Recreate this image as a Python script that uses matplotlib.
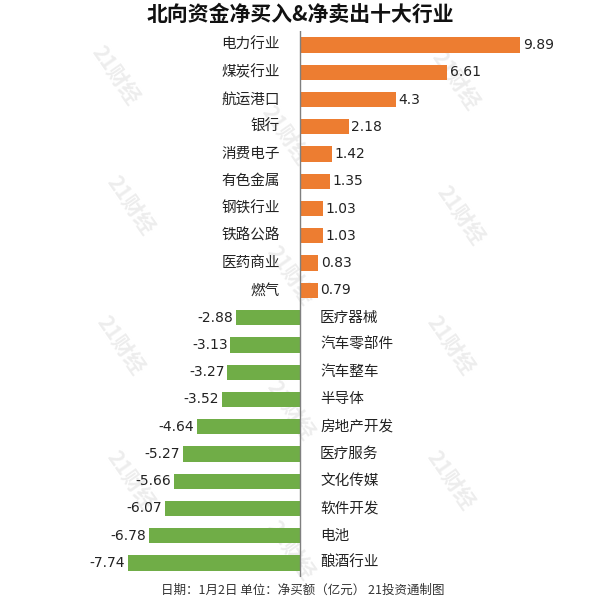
import matplotlib.pyplot as plt

plt.rcParams['font.family'] = ['Noto Sans CJK SC', 'DejaVu Sans']

# net buy / net sell industries (亿元)
buy_names = ['电力行业', '煤炭行业', '航运港口', '银行', '消费电子',
             '有色金属', '钢铁行业', '铁路公路', '医药商业', '燃气']
buy_values = [9.89, 6.61, 4.3, 2.18, 1.42, 1.35, 1.03, 1.03, 0.83, 0.79]
sell_names = ['医疗器械', '汽车零部件', '汽车整车', '半导体', '房地产开发',
              '医疗服务', '文化传媒', '软件开发', '电池', '酿酒行业']
sell_values = [-2.88, -3.13, -3.27, -3.52, -4.64, -5.27, -5.66, -6.07, -6.78, -7.74]

names = buy_names + sell_names
values = buy_values + sell_values

orange = '#ED7D31'
green = '#70AD47'

fig = plt.figure(figsize=(6, 6), dpi=100)
ax = fig.add_axes([0, 0.039, 1, 0.9087])
ax.set_zorder(2)
ax.patch.set_alpha(0)

ypos = list(range(len(values)))
colors = [orange if v > 0 else green for v in values]
ax.barh(ypos, values, height=0.56, color=colors, zorder=2)

ax.set_xlim(-13.48, 13.48)
ax.set_ylim(len(values) - 0.5, -0.5)
ax.axvline(0, color='#7f7f7f', lw=1, zorder=3)
ax.axis('off')

for y, (name, v) in enumerate(zip(names, values)):
    label = f'{v:g}'
    if v > 0:
        ax.text(-0.9, y, name, ha='right', va='center', fontsize=10.5, color='#222222')
        ax.text(v + 0.12, y, label, ha='left', va='center', fontsize=10,
                color='#222222', family='DejaVu Sans')
    else:
        ax.text(0.9, y, name, ha='left', va='center', fontsize=10.5, color='#222222')
        ax.text(v - 0.12, y, label, ha='right', va='center', fontsize=10,
                color='#222222', family='DejaVu Sans')

# faint watermarks behind the bars
wm = [(115, 75), (455, 80), (285, 135), (130, 205), (460, 215), (290, 275),
      (120, 345), (450, 345), (290, 410), (130, 480), (450, 480), (290, 550)]
for x, y in wm:
    fig.text(x / 600, 1 - y / 600, '21财经', rotation=-55, ha='center', va='center',
             fontsize=15, fontweight='bold', color='#ededed', zorder=0)

fig.text(0.5, 1 - 14 / 600, '北向资金净买入&净卖出十大行业', ha='center', va='center',
         fontsize=15, fontweight='bold', color='#111111', zorder=3)
fig.text(0.505, 1 - 590 / 600, '日期：1月2日 单位：净买额（亿元） 21投资通制图',
         ha='center', va='center', fontsize=9, color='#333333', zorder=3)

fig.savefig('out.png', dpi=100)
